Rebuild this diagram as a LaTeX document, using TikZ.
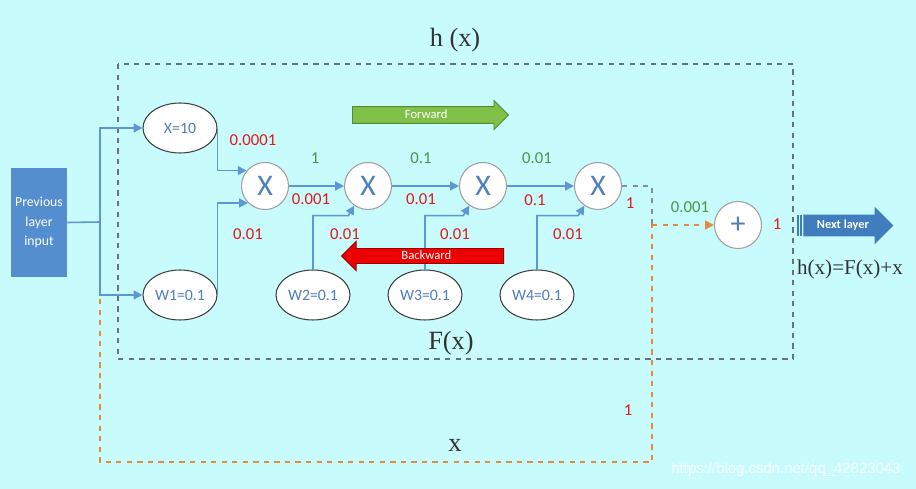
\documentclass[tikz,border=0pt]{standalone}
\usepackage{fontspec}
\setsansfont{Carlito}
\newfontfamily\mathserif{Liberation Serif}
\newfontfamily\urlfont{Liberation Sans}
\usepackage{tikz}
\usetikzlibrary{shapes.geometric, shapes.arrows, arrows.meta, positioning, calc}
\definecolor{bgcyan}{RGB}{200,251,252}
\definecolor{boxblue}{RGB}{84,142,206}
\definecolor{nextblue}{RGB}{64,125,190}
\definecolor{linkblue}{RGB}{92,150,212}
\definecolor{txtblue}{RGB}{78,128,190}
\definecolor{numred}{RGB}{226,24,24}
\definecolor{numgreen}{RGB}{72,150,72}
\definecolor{fwgreen}{RGB}{128,192,72}
\definecolor{fwdark}{RGB}{84,140,52}
\definecolor{bwred}{RGB}{236,0,0}
\definecolor{bwdark}{RGB}{150,0,0}
\definecolor{skiporange}{RGB}{226,140,60}
\definecolor{framegray}{RGB}{104,114,124}
\tikzset{
  mulnode/.style={circle, draw=gray!75, fill=white, minimum size=0.94cm,
    inner sep=0pt, text=txtblue, line width=0.6pt,
    font=\sffamily\fontsize{17}{17}\selectfont},
  wnode/.style={ellipse, draw=black!75, fill=white, minimum width=1.48cm,
    minimum height=1.0cm, inner sep=0pt, text=txtblue, line width=0.6pt,
    font=\sffamily\fontsize{9}{10}\selectfont},
  inbox/.style={rectangle, fill=boxblue, text=white, minimum width=1.12cm,
    minimum height=2.18cm, align=center, inner sep=1pt,
    font=\sffamily\fontsize{7.8}{11}\selectfont},
  fwarrow/.style={single arrow, fill=fwgreen, draw=fwdark, line width=0.5pt,
    text=white, minimum height=3.12cm, single arrow head extend=0.12cm,
    inner ysep=1.3pt, text height=5pt, text depth=1.5pt,
    font=\sffamily\fontsize{7.2}{8}\selectfont},
  bwarrow/.style={single arrow, shape border rotate=180, fill=bwred,
    draw=bwdark, line width=0.5pt, text=white, minimum height=3.24cm,
    single arrow head extend=0.14cm, inner ysep=0.8pt, text height=5pt,
    text depth=1.5pt, font=\sffamily\fontsize{7.2}{8}\selectfont},
  nextarrow/.style={single arrow, fill=nextblue, text=white,
    minimum height=1.8cm, single arrow head extend=0.16cm, inner ysep=2.7pt,
    text height=5pt, text depth=1.5pt,
    font=\sffamily\bfseries\fontsize{7}{8}\selectfont},
  flow/.style={-{Triangle[length=5pt,width=5pt]}, linkblue, line width=0.9pt},
  link/.style={linkblue, line width=0.9pt},
  skip/.style={skiporange, dashed, line width=0.9pt},
  graydash/.style={framegray!80, dashed, line width=0.8pt},
  redlbl/.style={text=numred, font=\sffamily\fontsize{9.5}{10}\selectfont},
  grnlbl/.style={text=numgreen, font=\sffamily\fontsize{9.5}{10}\selectfont},
  bigserif/.style={text=black!80, font=\mathserif\fontsize{15}{16}\selectfont}
}

\begin{document}
\begin{tikzpicture}[x=0.02cm, y=-0.02cm]
  % Background
  \fill[bgcyan] (0,0) rectangle (916,489);
  \useasboundingbox (0,0) rectangle (916,489);
  % Residual block frame
  \draw[framegray, dashed, line width=0.6pt] (118,64) rectangle (793,359);
  \node[bigserif] (hx) at (455,40) {h (x)};
  \node[bigserif] (fx) at (451,343) {F(x)};
  % Input and operands
  \node[inbox] (prev) at (39,222.5) {Previous\\layer\\input};
  \node[wnode] (xin) at (180,128) {X=10};
  \node[wnode] (w1) at (180,295) {W1=0.1};
  \node[wnode] (w2) at (313,295) {W2=0.1};
  \node[wnode] (w3) at (425,295) {W3=0.1};
  \node[wnode] (w4) at (537,295) {W4=0.1};
  % Multiplications and addition
  \node[mulnode] (x1) at (265,186) {X};
  \node[mulnode] (x2) at (368,186) {X};
  \node[mulnode] (x3) at (483,186) {X};
  \node[mulnode] (x4) at (598,186) {X};
  \node[mulnode] (plus) at (738,225) {+};
  % Connections
  \coordinate (split) at (100,222);
  \draw[link] (prev.east) -- (split);
  \draw[flow] (split) |- (xin.west);
  \draw[flow] (split) |- (w1.west);
  \draw[flow] (xin.east) |- (x1.140);
  \draw[flow] (w1.east) |- (x1.-135);
  \draw[flow] (x1) -- (x2);
  \draw[flow] (x2) -- (x3);
  \draw[flow] (x3) -- (x4);
  \draw[flow] (w2.north) |- ($(x2.-125)+(-6,10)$) -- (x2.-125);
  \draw[flow] (w3.north) |- ($(x3.-125)+(-6,10)$) -- (x3.-125);
  \draw[flow] (w4.north) |- ($(x4.-125)+(-6,10)$) -- (x4.-125);
  % Direction arrows
  \node[fwarrow, anchor=tail] (fwd) at (352,115) {Forward};
  \node[bwarrow, anchor=tail] (bwd) at (504,256) {Backward};
  \node[nextarrow, anchor=tail] (next) at (803,225.5) {Next layer};
  \fill[nextblue] (796.5,215) rectangle (798.5,236);
  \fill[nextblue] (800.3,215) rectangle (802,236);
  \node[text=black!80, font=\mathserif\fontsize{12}{13}\selectfont] (hfx) at (850,269) {h(x)=F(x)+x};
  % Identity shortcut
  \coordinate (join) at (652,225);
  \coordinate (skipstart) at (100,299);
  \coordinate (skipcorner) at (652,462);
  \draw[graydash] (x4.east) -| (join);
  \draw[skip] (skipstart) |- (skipcorner) -- (join);
  \draw[skip, -{Triangle[length=5pt,width=5pt]}] (join) -- (plus.west);
  \node[bigserif] (xlbl) at (455,445) {x};
  % Gradient values
  \node[redlbl] at (253,140) {0.0001};
  \node[grnlbl] at (315,158) {1};
  \node[redlbl] at (311,199) {0.001};
  \node[redlbl] at (248,234) {0.01};
  \node[grnlbl] at (421,158) {0.1};
  \node[redlbl] at (421,199) {0.01};
  \node[redlbl] at (345,234) {0.01};
  \node[grnlbl] at (537,158) {0.01};
  \node[redlbl] at (535,200) {0.1};
  \node[redlbl] at (455,234) {0.01};
  \node[redlbl] at (568,234) {0.01};
  \node[redlbl] at (630,203) {1};
  \node[grnlbl] at (690,207) {0.001};
  \node[redlbl] at (777,224) {1};
  \node[redlbl] at (628,410) {1};
  % Watermark
  \node[text=white!85!bgcyan, font=\urlfont\fontsize{8.5}{9}\selectfont] (mark) at (786,470) {https://blog.csdn.net/qq\_42823043};
\end{tikzpicture}
\end{document}
